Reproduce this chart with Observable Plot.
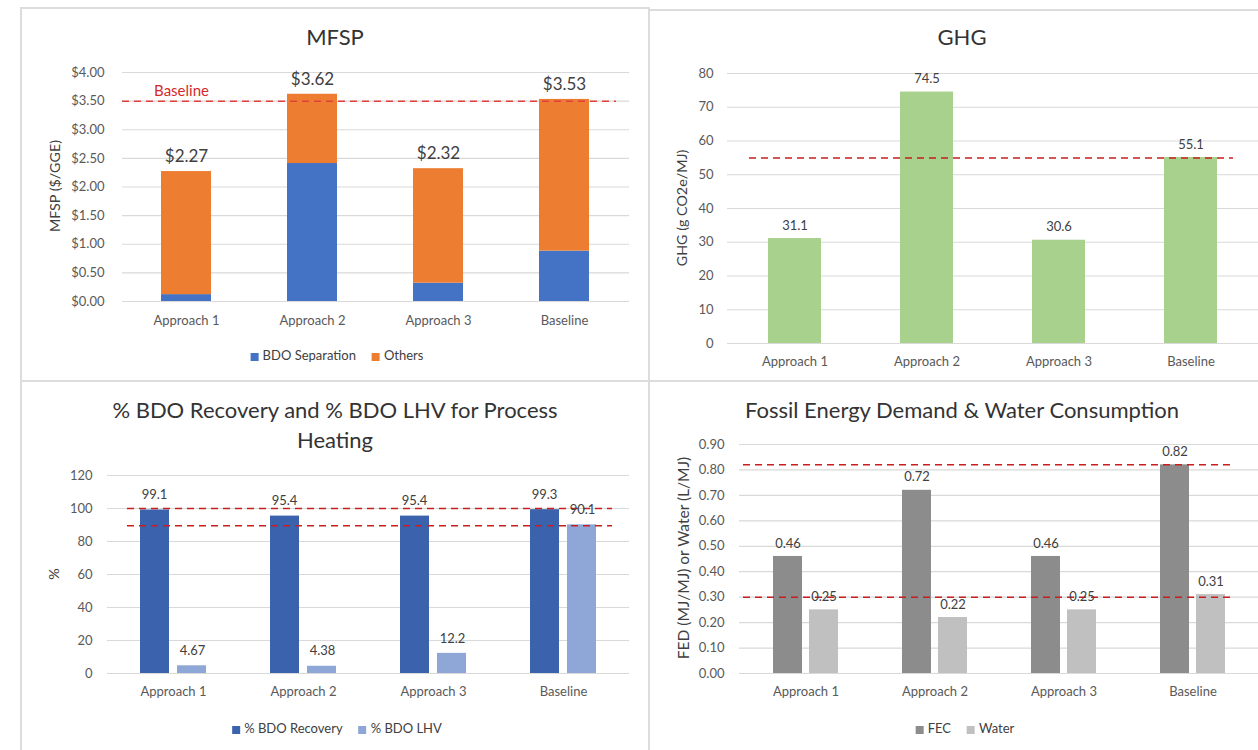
<!DOCTYPE html>
<html>
<head>
<meta charset="utf-8">
<script src="https://cdn.jsdelivr.net/npm/d3@7"></script>
<script src="https://cdn.jsdelivr.net/npm/@observablehq/plot@0.6"></script>
<style>
  body { margin: 0; background: #fff; font-family: Lato, "Open Sans", sans-serif; }
  #page { position: relative; width: 1258px; height: 750px; overflow: hidden; background: #fff; }
  .line { position: absolute; background: #dcdcdc; }
  .chart { position: absolute; }
  .title { position: absolute; font-size: 22px; color: #333; text-align: center; line-height: 30px;
           transform: translate(-50%, -50%); white-space: nowrap; }
  .ytitle { position: absolute; font-size: 14.3px; color: #404040; white-space: nowrap;
            transform: translate(-50%, -50%) rotate(-90deg); }
  .legend { position: absolute; display: flex; align-items: center; gap: 16px; font-size: 13px; color: #404040;
            transform: translate(-50%, -50%); white-space: nowrap; }
  .legend span.sw { display: inline-block; width: 8px; height: 8px; margin-right: 4px; vertical-align: middle; }
</style>
</head>
<body>
<div id="page"></div>
<script>
// ---------- data ----------
const categories = ["Approach 1", "Approach 2", "Approach 3", "Baseline"];

const mfspSeries = ["BDO Separation", "Others"];
const mfspBdoSeparation = [0.12, 2.41, 0.32, 0.88];
const mfspTotal = [2.27, 3.62, 2.32, 3.53];
const mfspRef = [3.50];
const mfspTicks = [0, 0.5, 1, 1.5, 2, 2.5, 3, 3.5, 4];

const ghgValues = [31.1, 74.5, 30.6, 55.1];
const ghgRef = [55];
const ghgTicks = [0, 10, 20, 30, 40, 50, 60, 70, 80];

const pctSeries = ["% BDO Recovery", "% BDO LHV"];
const bdoRecovery = [99.1, 95.4, 95.4, 99.3];
const bdoLhv = [4.67, 4.38, 12.2, 90.1];
const bdoLhvLabels = ["4.67", "4.38", "12.2", "90.1"];
const pctRef = [100, 89.5];
const pctTicks = [0, 20, 40, 60, 80, 100, 120];

const fedSeries = ["FEC", "Water"];
const fecValues = [0.46, 0.72, 0.46, 0.82];
const waterValues = [0.25, 0.22, 0.25, 0.31];
const fedRef = [0.82, 0.30];
const fedTicks = [0, 0.1, 0.2, 0.3, 0.4, 0.5, 0.6, 0.7, 0.8, 0.9];

// ---------- styles ----------
const FONT = "Lato, 'Open Sans', sans-serif";
const GRID = "#d9d9d9";
const TICK = "#595959";
const LABEL = "#404040";
const page = document.getElementById("page");

function place(node, left, top) {
  node.classList.add("chart");
  node.style.left = left + "px";
  node.style.top = top + "px";
  page.appendChild(node);
}
function addDiv(cls, html, styles) {
  const d = document.createElement("div");
  d.className = cls;
  d.innerHTML = html;
  Object.assign(d.style, styles);
  page.appendChild(d);
  return d;
}
function legend(items, colors, cx, cy) {
  const html = items.map((t, i) =>
    `<div><span class="sw" style="background:${colors[i]}"></span>${t}</div>`).join("");
  addDiv("legend", html, {left: cx + "px", top: cy + "px"});
}

// ---------- frame lines ----------
[
  {left: 20, top: 7, width: 2, height: 743},
  {left: 20, top: 7, width: 629, height: 2},
  {left: 648, top: 7, width: 2, height: 743},
  {left: 649, top: 9, width: 609, height: 2},
  {left: 20, top: 380, width: 1238, height: 2}
].forEach(s => {
  const d = document.createElement("div");
  d.className = "line";
  Object.assign(d.style, Object.fromEntries(Object.entries(s).map(([k, v]) => [k, v + "px"])));
  page.appendChild(d);
});

const baseStyle = {fontFamily: FONT, fontSize: "13px", color: TICK, background: "transparent", overflow: "visible"};

// ---------- Panel 1: MFSP ----------
const mfspRows = [];
categories.forEach((c, i) => {
  mfspRows.push({category: c, series: mfspSeries[0], value: mfspBdoSeparation[i]});
  mfspRows.push({category: c, series: mfspSeries[1], value: +(mfspTotal[i] - mfspBdoSeparation[i]).toFixed(2)});
});
const mfspTotals = categories.map((c, i) => ({category: c, total: mfspTotal[i]}));

place(Plot.plot({
  width: 620, height: 275,
  marginLeft: 102, marginRight: 11, marginTop: 17, marginBottom: 29,
  style: baseStyle,
  x: {domain: categories, paddingInner: 0.6, paddingOuter: 0.3, label: null},
  y: {domain: [0, 4], label: null},
  color: {domain: mfspSeries, range: ["#4472c4", "#ed7d31"]},
  marks: [
    Plot.gridY(mfspTicks, {stroke: GRID, strokeOpacity: 1, strokeWidth: 1.2}),
    Plot.axisY({ticks: mfspTicks, tickSize: 0, tickPadding: 18, tickFormat: d => "$" + d.toFixed(2), label: null}),
    Plot.axisX({tickSize: 0, tickPadding: 14, label: null}),
    Plot.barY(mfspRows, {x: "category", y: "value", fill: "series", order: mfspSeries}),
    Plot.ruleY(mfspRef, {stroke: "#e0403a", strokeWidth: 1.5, strokeDasharray: "7,5", insetRight: 13}),
    Plot.text(mfspRef, {x: () => categories[0], y: d => d, text: () => "Baseline", dx: -5, dy: -10,
      fill: "#d42a2a", fontSize: 15}),
    Plot.text(mfspTotals, {x: "category", y: "total", text: d => "$" + d.total.toFixed(2), dy: -15,
      fontSize: 17, fill: LABEL})
  ]
}), 20, 55);

addDiv("title", "MFSP", {left: "335px", top: "37px"});
addDiv("ytitle", "MFSP ($/GGE)", {left: "54px", top: "186px"});
legend(mfspSeries, ["#4472c4", "#ed7d31"], 337, 355);

// ---------- Panel 2: GHG ----------
const ghgRows = categories.map((c, i) => ({category: c, value: ghgValues[i]}));
place(Plot.plot({
  width: 609, height: 325,
  marginLeft: 78, marginRight: 0, marginTop: 18, marginBottom: 37,
  style: baseStyle,
  x: {domain: categories, paddingInner: 0.6, paddingOuter: 0.3, label: null},
  y: {domain: [0, 80], label: null},
  marks: [
    Plot.gridY(ghgTicks, {stroke: GRID, strokeOpacity: 1, strokeWidth: 1.2}),
    Plot.axisY({ticks: ghgTicks, tickSize: 0, tickPadding: 14, label: null}),
    Plot.axisX({tickSize: 0, tickPadding: 13, label: null}),
    Plot.barY(ghgRows, {x: "category", y: "value", fill: "#a9d18e"}),
    Plot.ruleY(ghgRef, {stroke: "#c81e1e", strokeWidth: 1.5, strokeDasharray: "7,5", insetLeft: 22, insetRight: 25}),
    Plot.text(ghgRows, {x: "category", y: "value", text: d => d.value.toFixed(1), dy: -13, fontSize: 13, fill: LABEL})
  ]
}), 649, 55);

addDiv("title", "GHG", {left: "962px", top: "37px"});
addDiv("ytitle", "GHG (g CO2e/MJ)", {left: "681px", top: "208px"});

// ---------- Panel 3: % BDO Recovery and LHV ----------
const pctRows = categories.map((c, i) => ({category: c, rec: bdoRecovery[i], lhv: bdoLhv[i], lhvLabel: bdoLhvLabels[i]}));
place(Plot.plot({
  width: 620, height: 250,
  marginLeft: 87, marginRight: 11, marginTop: 15, marginBottom: 37,
  style: baseStyle,
  x: {domain: categories, paddingInner: 0.49, paddingOuter: 0.245, label: null},
  y: {domain: [0, 120], label: null},
  marks: [
    Plot.gridY(pctTicks, {stroke: GRID, strokeOpacity: 1, strokeWidth: 1.2}),
    Plot.axisY({ticks: pctTicks, tickSize: 0, tickPadding: 15, label: null}),
    Plot.axisX({tickSize: 0, tickPadding: 13, label: null}),
    Plot.barY(pctRows, {x: "category", y: "rec", fill: "#3b63ad", insetRight: 37}),
    Plot.barY(pctRows, {x: "category", y: "lhv", fill: "#8fa7d6", insetLeft: 37}),
    Plot.ruleY(pctRef, {stroke: "#c81e1e", strokeWidth: 1.5, strokeDasharray: "7,5", insetLeft: 20, insetRight: 17}),
    Plot.text(pctRows, {x: "category", y: "rec", text: d => d.rec.toFixed(1), dx: -19, dy: -15, fontSize: 13, fill: LABEL}),
    Plot.text(pctRows, {x: "category", y: "lhv", text: "lhvLabel", dx: 19, dy: -15, fontSize: 13, fill: LABEL})
  ]
}), 20, 460);

addDiv("title", "% BDO Recovery and % BDO LHV for Process<br>Heating", {left: "335px", top: "425px"});
addDiv("ytitle", "%", {left: "53px", top: "574px"});
legend(pctSeries, ["#3b63ad", "#8fa7d6"], 337, 728);

// ---------- Panel 4: FED & Water ----------
const fedRows = categories.map((c, i) => ({category: c, fec: fecValues[i], water: waterValues[i]}));
place(Plot.plot({
  width: 609, height: 280,
  marginLeft: 90, marginRight: 0, marginTop: 14, marginBottom: 37,
  style: baseStyle,
  x: {domain: categories, paddingInner: 0.5, paddingOuter: 0.25, label: null},
  y: {domain: [0, 0.9], label: null},
  marks: [
    Plot.gridY(fedTicks, {stroke: GRID, strokeOpacity: 1, strokeWidth: 1.2}),
    Plot.axisY({ticks: fedTicks, tickSize: 0, tickPadding: 15, tickFormat: d => d.toFixed(2), label: null}),
    Plot.axisX({tickSize: 0, tickPadding: 13, label: null}),
    Plot.barY(fedRows, {x: "category", y: "fec", fill: "#8c8c8c", insetRight: 36}),
    Plot.barY(fedRows, {x: "category", y: "water", fill: "#c0c0c0", insetLeft: 36}),
    Plot.ruleY(fedRef, {stroke: "#c81e1e", strokeWidth: 1.5, strokeDasharray: "7,5", insetLeft: 4, insetRight: 26}),
    Plot.text(fedRows, {x: "category", y: "fec", text: d => d.fec.toFixed(2), dx: -18, dy: -13, fontSize: 13, fill: LABEL}),
    Plot.text(fedRows, {x: "category", y: "water", text: d => d.water.toFixed(2), dx: 18, dy: -13, fontSize: 13, fill: LABEL})
  ]
}), 649, 430);

addDiv("title", "Fossil Energy Demand &amp; Water Consumption", {left: "962px", top: "410px"});
addDiv("ytitle", "FED (MJ/MJ) or Water (L/MJ)", {left: "683px", top: "558px", fontSize: "15.5px"});
legend(fedSeries, ["#8c8c8c", "#c0c0c0"], 965, 728);
</script>
</body>
</html>
